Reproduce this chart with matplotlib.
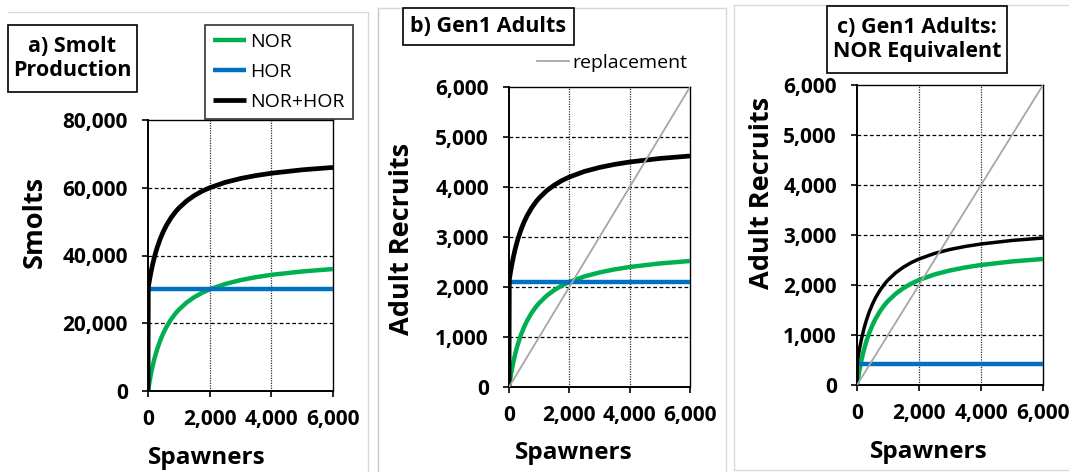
import matplotlib
matplotlib.use('Agg')
import matplotlib.pyplot as plt
from matplotlib.lines import Line2D
from matplotlib.patches import Rectangle

plt.rcParams['font.family'] = ['Open Sans', 'DejaVu Sans']

# ---------------- data ----------------
SPAWNERS = [0, 10, 25, 50, 75, 100, 150, 200, 250, 300, 400, 500, 600, 750, 900,
            1000, 1250, 1500, 1750, 2000, 2500, 3000, 3500, 4000, 5000, 6000]
FLAT_S = [0, 6000]

# a) smolt production
NOR_SMOLTS = [0, 591, 1446, 2791, 4045, 5217, 7347, 9231, 10909, 12414, 15000, 17143, 18947,
              21176, 22979, 24000, 26087, 27692, 28966, 30000, 31579, 32727, 33600, 34286, 35294, 36000]
HOR_SMOLTS = [30000, 30000]
TOT_SMOLTS = [0, 30591, 31446, 32791, 34045, 35217, 37347, 39231, 40909, 42414, 45000, 47143, 48947,
              51176, 52979, 54000, 56087, 57692, 58966, 60000, 61579, 62727, 63600, 64286, 65294, 66000]

# b) gen1 adults
NOR_ADULTS = [0, 41, 101, 195, 283, 365, 514, 646, 764, 869, 1050, 1200, 1326,
              1482, 1609, 1680, 1826, 1938, 2028, 2100, 2211, 2291, 2352, 2400, 2471, 2520]
HOR_ADULTS = [2100, 2100]
TOT_ADULTS = [0, 2141, 2201, 2295, 2383, 2465, 2614, 2746, 2864, 2969, 3150, 3300, 3426,
              3582, 3709, 3780, 3926, 4038, 4128, 4200, 4311, 4391, 4452, 4500, 4571, 4620]

# c) gen1 adults, NOR equivalent
NOR_EQ = [0, 41, 101, 195, 283, 365, 514, 646, 764, 869, 1050, 1200, 1326,
          1482, 1609, 1680, 1826, 1938, 2028, 2100, 2211, 2291, 2352, 2400, 2471, 2520]
HOR_EQ = [420, 420]
TOT_EQ = [0, 461, 521, 615, 703, 785, 934, 1066, 1184, 1289, 1470, 1620, 1746,
          1902, 2029, 2100, 2246, 2358, 2448, 2520, 2631, 2711, 2772, 2820, 2891, 2940]

REPLACEMENT = [0, 6000]

X_TICKS = [0, 2000, 4000, 6000]
X_TICK_LABELS = ['0', '2,000', '4,000', '6,000']
Y_TICKS_A = [0, 20000, 40000, 60000, 80000]
Y_TICK_LABELS_A = ['0', '20,000', '40,000', '60,000', '80,000']
Y_TICKS_B = [0, 1000, 2000, 3000, 4000, 5000, 6000]
Y_TICK_LABELS_B = ['0', '1,000', '2,000', '3,000', '4,000', '5,000', '6,000']

SERIES_NAMES = ['NOR', 'HOR', 'NOR+HOR']
GREEN, BLUE, BLACK, GREY = '#00B050', '#0070C0', '#000000', '#A6A6A6'

# ---------------- figure ----------------
W, H = 1069, 472
fig = plt.figure(figsize=(W / 100, H / 100), dpi=100)


def fx(x):
    return x / W


def fy(y):
    return 1 - y / H


def axes_at(x0, y0, x1, y1):
    return fig.add_axes([fx(x0), fy(y1), (x1 - x0) / W, (y1 - y0) / H])


def style(ax, yticks, ylabels):
    ax.set_xlim(0, 6000)
    ax.set_ylim(yticks[0], yticks[-1])
    ax.set_xticks(X_TICKS)
    ax.set_xticklabels(X_TICK_LABELS, fontweight='bold', fontsize=15)
    ax.set_yticks(yticks)
    ax.set_yticklabels(ylabels, fontweight='bold', fontsize=15)
    for y in yticks[1:-1]:
        ax.axhline(y, color='black', lw=0.9, ls=(0, (3, 2)), zorder=1)
    for x in X_TICKS[1:-1]:
        ax.axvline(x, color='#303030', lw=0.9, ls=(0, (1, 1)), zorder=1)
    for s in ['left', 'bottom']:
        ax.spines[s].set_linewidth(1.4)
    for s in ['top', 'right']:
        ax.spines[s].set_linewidth(1.0)
    ax.tick_params(axis='both', direction='out', length=4.5, width=1.2)
    ax.tick_params(axis='y', pad=10)
    ax.tick_params(axis='x', pad=8.5)
    ax.set_facecolor('none')


def frame_line(x0, y0, x1, y1, color='#d9d9d9'):
    fig.add_artist(Line2D([fx(x0), fx(x1)], [fy(y0), fy(y1)], color=color, lw=1.0))


def title_box(x0, y0, x1, y1, text):
    fig.add_artist(Rectangle((fx(x0), fy(y1)), (x1 - x0) / W, (y1 - y0) / H,
                             facecolor='white', edgecolor='black', lw=1.2,
                             transform=fig.transFigure, zorder=5))
    fig.text(fx((x0 + x1) / 2), fy((y0 + y1) / 2), text, ha='center', va='center',
             fontsize=15.5, fontweight='bold', linespacing=1.15, zorder=6)


LINE_KW = dict(solid_joinstyle='round', solid_capstyle='butt')

# panel frames
frame_line(8, 12, 368, 12)
frame_line(368, 12, 368, 472)
frame_line(378, 8, 378, 472, '#c8c8c8')
frame_line(378, 8, 726, 8)
frame_line(726, 8, 726, 472)
frame_line(734, 5, 734, 470)
frame_line(734, 5, 1069, 5)
frame_line(734, 470, 1069, 470)

# ---- a) ----
axa = axes_at(148, 120, 333, 391)
style(axa, Y_TICKS_A, Y_TICK_LABELS_A)
la1, = axa.plot(SPAWNERS, NOR_SMOLTS, color=GREEN, lw=3.2, zorder=3, label=SERIES_NAMES[0], **LINE_KW)
la2, = axa.plot(FLAT_S, HOR_SMOLTS, color=BLUE, lw=3.2, zorder=3, label=SERIES_NAMES[1], **LINE_KW)
la3, = axa.plot(SPAWNERS, TOT_SMOLTS, color=BLACK, lw=3.4, zorder=4, label=SERIES_NAMES[2], **LINE_KW)
axa.set_ylabel('Smolts', fontsize=19.5, fontweight='bold', va='center')
axa.yaxis.set_label_coords(-0.611, 0.624)
axa.set_xlabel('Spawners', fontsize=17.5, fontweight='bold', va='center')
axa.xaxis.set_label_coords(0.32, -0.247)

leg = fig.legend(handles=[la1, la2, la3], loc='upper left',
                 bbox_to_anchor=(fx(205), fy(25)), bbox_transform=fig.transFigure,
                 borderaxespad=0, frameon=True, fancybox=False, fontsize=14,
                 handlelength=1.7, handletextpad=0.2, borderpad=0.42,
                 labelspacing=0.62)
leg.get_frame().set_edgecolor('black')
leg.get_frame().set_linewidth(1.2)
leg.set_zorder(6)

title_box(8, 25, 137, 92, 'a) Smolt\nProduction')

# ---- b) ----
axb = axes_at(509, 87, 690, 387)
style(axb, Y_TICKS_B, Y_TICK_LABELS_B)
axb.plot(SPAWNERS, NOR_ADULTS, color=GREEN, lw=3.2, zorder=3, **LINE_KW)
axb.plot(FLAT_S, HOR_ADULTS, color=BLUE, lw=3.2, zorder=3, **LINE_KW)
axb.plot(SPAWNERS, TOT_ADULTS, color=BLACK, lw=3.4, zorder=4, **LINE_KW)
lrep, = axb.plot(FLAT_S, REPLACEMENT, color=GREY, lw=1.3, zorder=5, label='replacement')
axb.set_ylabel('Adult Recruits', fontsize=19.5, fontweight='bold', va='center')
axb.yaxis.set_label_coords(-0.591, 0.493)
axb.set_xlabel('Spawners', fontsize=17.5, fontweight='bold', va='center')
axb.xaxis.set_label_coords(0.36, -0.22)
fig.legend(handles=[lrep], loc='center left', bbox_to_anchor=(fx(537), fy(63)),
           bbox_transform=fig.transFigure, borderaxespad=0, frameon=False,
           fontsize=14, handlelength=1.65, handletextpad=0.15, borderpad=0.0)

title_box(403, 8, 574, 45, 'b) Gen1 Adults')

# ---- c) ----
axc = axes_at(857, 85, 1043, 385)
style(axc, Y_TICKS_B, Y_TICK_LABELS_B)
axc.plot(SPAWNERS, NOR_EQ, color=GREEN, lw=3.2, zorder=3, **LINE_KW)
axc.plot(FLAT_S, HOR_EQ, color=BLUE, lw=3.2, zorder=3, **LINE_KW)
axc.plot(SPAWNERS, TOT_EQ, color=BLACK, lw=2.5, zorder=4, **LINE_KW)
axc.plot(FLAT_S, REPLACEMENT, color=GREY, lw=1.3, zorder=5)
axc.set_ylabel('Adult Recruits', fontsize=19.5, fontweight='bold', va='center')
axc.yaxis.set_label_coords(-0.511, 0.64)
axc.set_xlabel('Spawners', fontsize=17.5, fontweight='bold', va='center')
axc.xaxis.set_label_coords(0.387, -0.223)

title_box(827, 6, 1007, 73, 'c) Gen1 Adults:\nNOR Equivalent')

fig.savefig('out.png', dpi=100)
